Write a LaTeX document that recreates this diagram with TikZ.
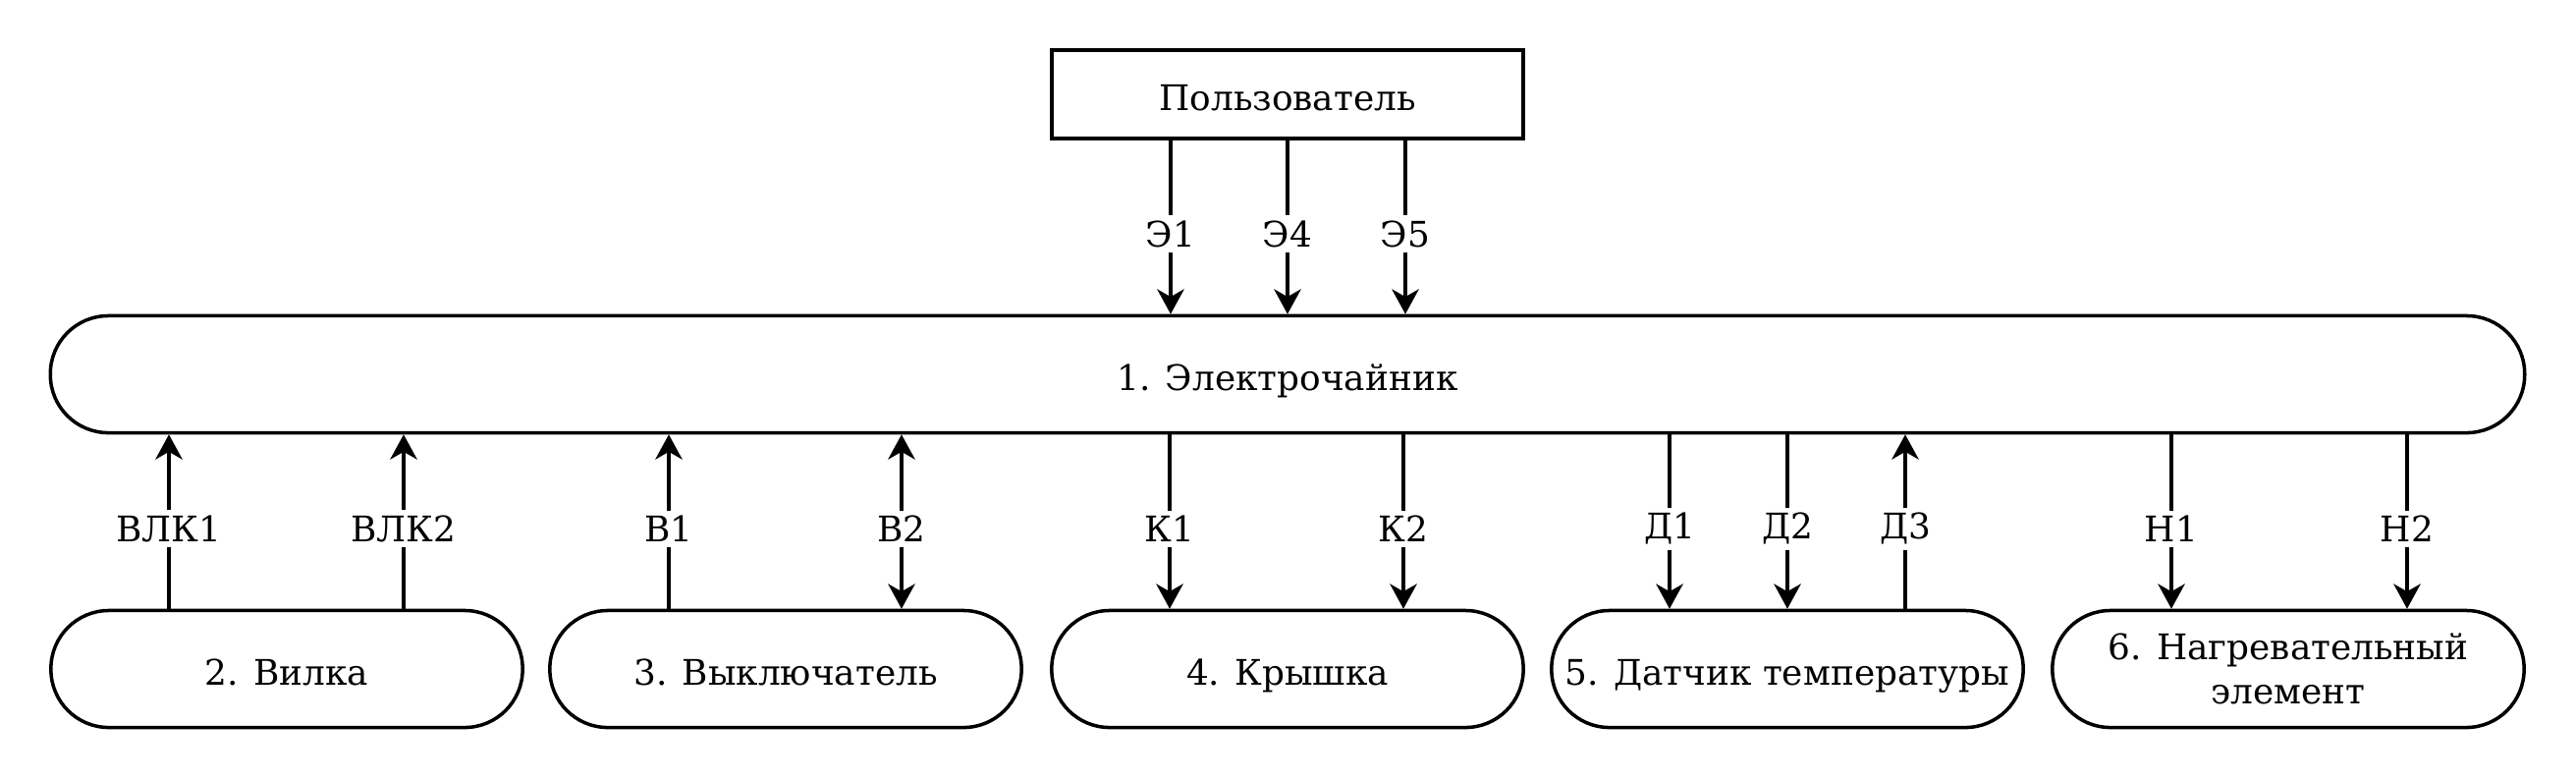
\documentclass[tikz,border=0pt]{standalone}
\usepackage{fontspec}
\setmainfont{DejaVu Serif}
\usetikzlibrary{arrows.meta}
\begin{document}
\begin{tikzpicture}[x=0.01cm,y=-0.01cm,
  every node/.style={font=\fontsize{10.2}{12}\selectfont},
  shifted/.style={text height=10pt,text depth=0.6pt},
  roundbox/.style={draw,line width=1pt,minimum width=4.8cm,minimum height=1.19cm,rounded corners=0.59cm,align=center,inner sep=0pt},
  box/.style={roundbox,shifted},
  twoline/.style={roundbox,text depth=0pt},
  userbox/.style={draw,line width=1pt,minimum width=4.8cm,minimum height=0.9cm,inner sep=0pt,shifted},
  mainbox/.style={draw,line width=1pt,minimum width=25.18cm,minimum height=1.19cm,rounded corners=0.59cm,inner sep=0pt,shifted},
  conn/.style={line width=1pt},
  tip/.tip={Stealth[length=7.2pt,width=7.8pt,inset=2.2pt]},
  lbl/.style={fill=white,inner sep=1.5pt}]
\useasboundingbox (0,0) rectangle (2623,793);
\node[userbox] (user) at (1311,96) {Пользователь};
\node[mainbox] (main) at (1311,381) {1. Электрочайник};
\node[box] (b2) at (292,681) {2. Вилка};
\node[box] (b3) at (800,681) {3. Выключатель};
\node[box] (b4) at (1311,681) {4. Крышка};
\node[box] (b5) at (1820,681) {5. Датчик температуры};
\node[twoline] (b6) at (2330,681) {6. Нагревательный\\[0.8pt]элемент};
% x positions
\coordinate (xe1) at (1192,0);
\coordinate (xe4) at (1311,0);
\coordinate (xe5) at (1431,0);
\coordinate (xv1) at (172,0);
\coordinate (xv2) at (411,0);
\coordinate (xb1) at (681,0);
\coordinate (xb2) at (918,0);
\coordinate (xk1) at (1191,0);
\coordinate (xk2) at (1429,0);
\coordinate (xd1) at (1700,0);
\coordinate (xd2) at (1820,0);
\coordinate (xd3) at (1940,0);
\coordinate (xn1) at (2211,0);
\coordinate (xn2) at (2451,0);
% top connectors
\draw[conn,-tip] (user.south -| xe1) -- node[lbl,pos=0.54] {Э1} (main.north -| xe1);
\draw[conn,-tip] (user.south -| xe4) -- node[lbl,pos=0.54] {Э4} (main.north -| xe4);
\draw[conn,-tip] (user.south -| xe5) -- node[lbl,pos=0.54] {Э5} (main.north -| xe5);
% bottom connectors
\draw[conn,-tip] (b2.north -| xv1) -- node[lbl,pos=0.46] {ВЛК1} (main.south -| xv1);
\draw[conn,-tip] (b2.north -| xv2) -- node[lbl,pos=0.46] {ВЛК2} (main.south -| xv2);
\draw[conn,-tip] (b3.north -| xb1) -- node[lbl,pos=0.46] {В1} (main.south -| xb1);
\draw[conn,tip-tip] (b3.north -| xb2) -- node[lbl,pos=0.46] {В2} (main.south -| xb2);
\draw[conn,-tip] (main.south -| xk1) -- node[lbl,pos=0.54] {К1} (b4.north -| xk1);
\draw[conn,-tip] (main.south -| xk2) -- node[lbl,pos=0.54] {К2} (b4.north -| xk2);
\draw[conn,-tip] (main.south -| xd1) -- node[lbl,pos=0.54] {Д1} (b5.north -| xd1);
\draw[conn,-tip] (main.south -| xd2) -- node[lbl,pos=0.54] {Д2} (b5.north -| xd2);
\draw[conn,-tip] (b5.north -| xd3) -- node[lbl,pos=0.46] {Д3} (main.south -| xd3);
\draw[conn,-tip] (main.south -| xn1) -- node[lbl,pos=0.54] {Н1} (b6.north -| xn1);
\draw[conn,-tip] (main.south -| xn2) -- node[lbl,pos=0.54] {Н2} (b6.north -| xn2);
\end{tikzpicture}
\end{document}
